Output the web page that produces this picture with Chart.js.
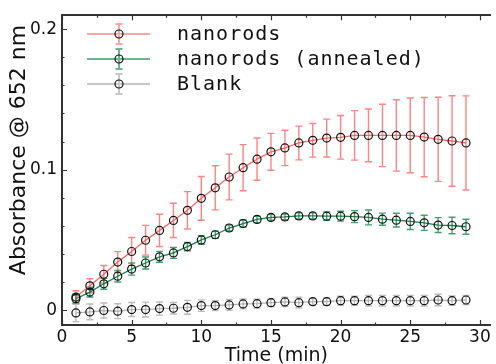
<!DOCTYPE html>
<html>
<head>
<meta charset="utf-8">
<script src="https://cdn.jsdelivr.net/npm/chart.js@4/dist/chart.umd.min.js"></script>
<style>
  html, body { margin: 0; padding: 0; background: #fff; overflow: hidden; }
  canvas { display: block; }
</style>
</head>
<body>
<canvas id="chart" width="496" height="364"></canvas>
<script>
// Time points (min)
const times = [1, 2, 3, 4, 5, 6, 7, 8, 9, 10, 11, 12, 13, 14, 15, 16, 17, 18, 19, 20, 21, 22, 23, 24, 25, 26, 27, 28, 29];

// Absorbance readings and error bars (half-height)
const nanorods = [0.0094, 0.0174, 0.0256, 0.0343, 0.0418, 0.0498, 0.0568, 0.0639, 0.0711, 0.0796, 0.0871, 0.0948, 0.1014, 0.1075, 0.1127,
  0.1155, 0.119, 0.1209, 0.1225, 0.123, 0.1244, 0.1244, 0.1244, 0.1244, 0.1244, 0.1232, 0.1216, 0.1204, 0.119];
const nanorodsErr = [0.0045, 0.005, 0.0062, 0.0074, 0.0099, 0.0106, 0.0115, 0.0122, 0.0133, 0.0156, 0.0157, 0.0163, 0.0164, 0.015, 0.0131,
  0.0126, 0.012, 0.012, 0.0135, 0.0155, 0.0176, 0.0188, 0.0222, 0.0254, 0.0266, 0.0282, 0.0299, 0.0322, 0.0335];

const annealed = [0.0082, 0.0129, 0.0188, 0.0242, 0.0293, 0.0336, 0.038, 0.0408, 0.0453, 0.05, 0.0537, 0.0585, 0.0617, 0.0646, 0.066,
  0.0664, 0.0671, 0.0671, 0.0669, 0.0669, 0.0666, 0.066, 0.0648, 0.0641, 0.0632, 0.0622, 0.0606, 0.0603, 0.0594];
const annealedErr = [0.003, 0.0035, 0.0039, 0.0041, 0.0043, 0.0043, 0.0039, 0.0039, 0.003, 0.003, 0.0026, 0.0021, 0.0025, 0.0023, 0.002,
  0.002, 0.0022, 0.0022, 0.003, 0.0035, 0.0043, 0.0053, 0.0043, 0.0049, 0.0058, 0.0054, 0.0053, 0.0059, 0.0053];

const blank = [-0.0019, -0.0012, -0.0002, -0.0007, 0.0005, 0.0005, 0.0012, 0.0014, 0.0021, 0.0033, 0.0033, 0.0038, 0.0045, 0.0047, 0.0054,
  0.0059, 0.0054, 0.0061, 0.0061, 0.0068, 0.0068, 0.0068, 0.0068, 0.0068, 0.0068, 0.0068, 0.0073, 0.0068, 0.0073];
const blankErr = [0.0062, 0.0056, 0.0053, 0.0053, 0.005, 0.0053, 0.0047, 0.0041, 0.0049, 0.0041, 0.0035, 0.0038, 0.0035, 0.0032, 0.0027,
  0.0033, 0.0038, 0.0023, 0.0026, 0.0032, 0.0032, 0.0038, 0.0038, 0.0038, 0.0038, 0.0038, 0.0041, 0.0033, 0.0033];

// Axis ticks
const xTicks = [0, 5, 10, 15, 20, 25, 30];
const yTicks = [0, 0.1, 0.2];

const yTitle = 'Absorbance @ 652 nm';

const toPoints = (ys) => times.map((t, i) => ({ x: t, y: ys[i] }));

const makeSet = (label, ys, errs, line, err, legend) => ({
  label: label,
  data: toPoints(ys),
  errors: errs,
  errColor: err,
  legendColor: legend,
  borderColor: line,
  borderWidth: 1.3,
  pointRadius: 4,
  pointBorderColor: '#111',
  pointBorderWidth: 1.2,
  pointBackgroundColor: 'rgba(0,0,0,0)',
  tension: 0,
  fill: false,
});

// error bars under the lines
const errorBars = {
  id: 'errorBars',
  beforeDatasetsDraw(chart) {
    const ctx = chart.ctx;
    const xs = chart.scales.x, ys = chart.scales.y;
    chart.data.datasets.forEach((ds) => {
      ctx.save();
      ctx.strokeStyle = ds.errColor;
      ctx.lineWidth = 1.4;
      ds.data.forEach((p, j) => {
        const e = ds.errors[j];
        const px = xs.getPixelForValue(p.x);
        const lo = ys.getPixelForValue(p.y - e);
        const hi = ys.getPixelForValue(p.y + e);
        ctx.beginPath();
        ctx.moveTo(px, lo); ctx.lineTo(px, hi);
        ctx.moveTo(px - 3.5, lo); ctx.lineTo(px + 3.5, lo);
        ctx.moveTo(px - 3.5, hi); ctx.lineTo(px + 3.5, hi);
        ctx.stroke();
      });
      ctx.restore();
    });
  }
};

// inward tick marks on left, bottom and top, plus the y title
const innerTicks = {
  id: 'innerTicks',
  afterDraw(chart) {
    const ctx = chart.ctx;
    const { left, top, bottom } = chart.chartArea;
    const xs = chart.scales.x, ys = chart.scales.y;
    ctx.save();
    ctx.strokeStyle = '#333';
    ctx.lineWidth = 1.2;
    ctx.beginPath();
    for (let v = 0; v <= 30; v += 2.5) {
      const px = Math.round(xs.getPixelForValue(v)) + 0.5;
      const len = v % 5 === 0 ? 5 : 2.5;
      ctx.moveTo(px, bottom); ctx.lineTo(px, bottom - len);
      ctx.moveTo(px, top); ctx.lineTo(px, top + len);
    }
    for (let k = 0; k <= 10; k++) {
      const v = k * 0.02;
      const py = Math.round(ys.getPixelForValue(v)) + 0.5;
      const len = k % 5 === 0 ? 5 : 2.5;
      ctx.moveTo(left, py); ctx.lineTo(left + len, py);
    }
    ctx.stroke();

    // y axis title sits a bit above the axis middle in the original
    ctx.translate(19, 150);
    ctx.rotate(-Math.PI / 2);
    ctx.fillStyle = '#111';
    ctx.font = '22px "DejaVu Sans"';
    ctx.textAlign = 'center';
    ctx.textBaseline = 'middle';
    ctx.fillText(yTitle, 0, 0);
    ctx.restore();
  }
};

// legend with line, error bar and marker
const errLegend = {
  id: 'errLegend',
  afterDraw(chart) {
    const ctx = chart.ctx;
    ctx.save();
    chart.data.datasets.forEach((ds, i) => {
      const y = 34 + i * 25;
      ctx.strokeStyle = ds.legendColor;
      ctx.lineWidth = 2;
      ctx.beginPath();
      ctx.moveTo(87, y); ctx.lineTo(150, y);
      ctx.moveTo(119, y - 10); ctx.lineTo(119, y + 10);
      ctx.moveTo(115.5, y - 10); ctx.lineTo(122.5, y - 10);
      ctx.moveTo(115.5, y + 10); ctx.lineTo(122.5, y + 10);
      ctx.stroke();
      ctx.strokeStyle = '#111';
      ctx.lineWidth = 1.2;
      ctx.beginPath();
      ctx.arc(119, y, 4, 0, Math.PI * 2);
      ctx.stroke();
      ctx.fillStyle = '#111';
      ctx.font = '20px "DejaVu Sans Mono"';
      ctx.letterSpacing = '1px';
      ctx.textBaseline = 'middle';
      ctx.fillText(ds.label, 177, y + 1);
    });
    ctx.restore();
  }
};

const tickFont = { family: '"DejaVu Sans"', size: 17 };

new Chart(document.getElementById('chart'), {
  type: 'line',
  data: {
    datasets: [
      makeSet('nanorods', nanorods, nanorodsErr, '#ff6464', 'rgba(255,90,90,0.75)', '#ffa5a5'),
      makeSet('nanorods (annealed)', annealed, annealedErr, '#14804a', 'rgba(20,135,75,0.8)', '#6fb38f'),
      makeSet('Blank', blank, blankErr, '#b4b4b4', 'rgba(170,170,170,0.8)', '#c8c8c8'),
    ]
  },
  options: {
    responsive: false,
    animation: false,
    devicePixelRatio: 1,
    layout: { padding: 0 },
    plugins: { legend: { display: false }, tooltip: { enabled: false } },
    scales: {
      x: {
        type: 'linear',
        position: 'bottom',
        min: 0,
        max: 30.78,
        afterBuildTicks: (s) => { s.ticks = xTicks.map((v) => ({ value: v })); },
        afterFit: (s) => { s.height = 39; },
        ticks: { font: tickFont, color: '#111', padding: 2, maxRotation: 0 },
        grid: { display: true, drawOnChartArea: false, drawTicks: false },
        border: { display: true, color: '#333', width: 2 },
        title: { display: true, text: 'Time (min)', color: '#111', font: { family: '"DejaVu Sans"', size: 19, lineHeight: 0.8 }, padding: 0 },
      },
      x2: {
        type: 'linear',
        position: 'top',
        min: 0,
        max: 30.78,
        afterFit: (s) => { s.height = 12; },
        ticks: { display: false },
        grid: { display: true, drawOnChartArea: false, drawTicks: false },
        border: { display: true, color: '#333', width: 2 },
      },
      y: {
        type: 'linear',
        min: -0.0105,
        max: 0.2099,
        afterBuildTicks: (s) => { s.ticks = yTicks.map((v) => ({ value: v })); },
        afterFit: (s) => { s.width = 62; },
        ticks: { font: tickFont, color: '#111', padding: 5, callback: (v) => (v === 0 ? '0' : String(v)) },
        grid: { display: true, drawOnChartArea: false, drawTicks: false },
        border: { display: true, color: '#333', width: 2 },
      }
    }
  },
  plugins: [errorBars, innerTicks, errLegend]
});
</script>
</body>
</html>
